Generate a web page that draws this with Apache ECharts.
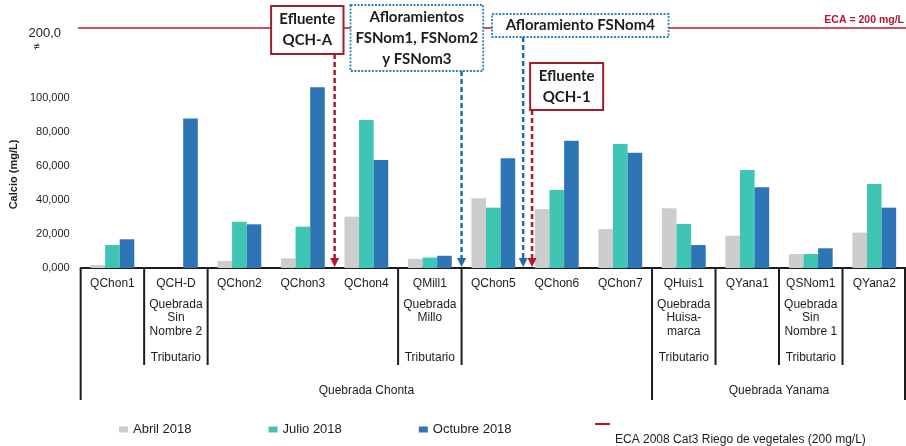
<!DOCTYPE html>
<html>
<head>
<meta charset="utf-8">
<script src="https://cdn.jsdelivr.net/npm/echarts@6/dist/echarts.min.js"></script>
<style>
  html, body { margin: 0; padding: 0; background: #fff; }
  #chart { width: 906px; height: 446px; }
</style>
</head>
<body>
<div id="chart"></div>
<script>
// Estaciones de muestreo (eje de categorías)
const categories = ['QChon1', 'QCH-D', 'QChon2', 'QChon3', 'QChon4', 'QMill1', 'QChon5',
  'QChon6', 'QChon7', 'QHuis1', 'QYana1', 'QSNom1', 'QYana2'];

// Texto secundario bajo cada estación (cuerpo de agua tributario)
const subLabels = [
  [], ['Quebrada', 'Sin', 'Nombre 2'], [], [], [], ['Quebrada', 'Millo'], [], [], [],
  ['Quebrada', 'Huisa-', 'marca'], [], ['Quebrada', 'Sin', 'Nombre 1'], []
];
const tributario = [false, true, false, false, false, true, false, false, false, true, false, true, false];

// Agrupación por quebrada: [nombre, primera categoría, última categoría + 1]
const groups = [['Quebrada Chonta', 0, 9], ['Quebrada Yanama', 9, 13]];
const longDividers = [0, 9, 13];
const shortDividers = [1, 2, 5, 6, 10, 11, 12];

// Calcio (mg/L) por campaña
const seriesNames = ['Abril 2018', 'Julio 2018', 'Octubre 2018'];
const abril   = [1.8, null, 4.2, 5.7, 30.2, 5.3, 41.0, 34.7, 22.9, 35.1, 19.0, 8.2, 20.8];
const julio   = [13.5, null, 27.2, 24.3, 87.1, 6.1, 35.5, 45.9, 72.9, 25.9, 57.6, 8.2, 49.4];
const octubre = [16.9, 88.0, 25.7, 106.3, 63.5, 7.2, 64.5, 74.9, 67.8, 13.5, 47.5, 11.6, 35.5];

// Estándar de calidad ambiental
const ecaLimit = 200;
const ecaName = 'ECA 2008 Cat3 Riego de vegetales (200 mg/L)';
const ecaLabel = 'ECA = 200 mg/L';

// Fuentes de aporte señaladas sobre el gráfico (posición en unidades de categoría)
const sources = [
  { lines: ['Efluente', 'QCH-A'], kind: 'efluente', at: 4.0 },
  { lines: ['Afloramientos', 'FSNom1, FSNom2', 'y FSNom3'], kind: 'afloramiento', at: 6.0 },
  { lines: ['Afloramiento FSNom4'], kind: 'afloramiento', at: 6.97 },
  { lines: ['Efluente', 'QCH-1'], kind: 'efluente', at: 7.11 }
];

// Caja de cada rótulo: x en unidades de categoría, y en píxeles
const boxLayout = [
  { x0: 3.0, x1: 4.14, y0: 6, y1: 54 },
  { x0: 4.25, x1: 6.34, y0: 5, y1: 71 },
  { x0: 6.48, x1: 9.26, y0: 14, y1: 37 },
  { x0: 7.08, x1: 8.23, y0: 63, y1: 110 }
];

const COLORS = ['#cdcdcd', '#3fc5b3', '#2e75b6'];
const RED = '#b3172e';
const BLUE = '#1f6aa8';
const FONT = '"Liberation Sans", Arial, sans-serif';
const INK = '#1c1c1c';

function fmtDecimal(v, d) { return v.toFixed(d).replace('.', ','); }

function categoryLabel(value, idx) {
  const rows = ['{n|' + value + '}'];
  const sub = subLabels[idx];
  for (let i = 0; i < 4; i++) rows.push('{s|' + (sub[i] || ' ') + '}');
  rows.push('{s|' + (tributario[idx] ? 'Tributario' : ' ') + '}');
  return rows.join('\n');
}

const chart = echarts.init(document.getElementById('chart'), null, { renderer: 'canvas' });

const barSeries = [abril, julio, octubre].map((data, i) => ({
  name: seriesNames[i],
  type: 'bar',
  xAxisIndex: 0,
  yAxisIndex: 0,
  data: data,
  barGap: '0%',
  barCategoryGap: '31%',
  itemStyle: { color: COLORS[i] },
  emphasis: { disabled: true }
}));

chart.setOption({
  animation: false,
  backgroundColor: '#fff',
  textStyle: { fontFamily: FONT },
  grid: [
    { left: 78, right: 0, top: 81, bottom: 178 },
    { left: 78, right: 0, top: 18, height: 20 }
  ],
  xAxis: [
    {
      type: 'category', gridIndex: 0, data: categories,
      axisLine: { lineStyle: { color: INK, width: 2 } },
      axisTick: { show: false },
      axisLabel: {
        interval: 0, margin: 2, formatter: categoryLabel,
        rich: {
          n: { fontSize: 12, color: INK, fontFamily: FONT, lineHeight: 28, align: 'center' },
          s: { fontSize: 12, color: INK, fontFamily: FONT, lineHeight: 13.3, align: 'center' }
        }
      }
    },
    { type: 'value', gridIndex: 0, min: 0, max: categories.length, show: false },
    { type: 'value', gridIndex: 1, min: 0, max: categories.length, show: false }
  ],
  yAxis: [
    {
      type: 'value', gridIndex: 0, min: 0, max: 110, interval: 20,
      name: 'Calcio (mg/L)', nameLocation: 'middle', nameGap: 58,
      nameTextStyle: { fontSize: 11, fontWeight: 'bold', color: INK, fontFamily: FONT },
      axisLine: { show: false }, axisTick: { show: false }, splitLine: { show: false },
      axisLabel: {
        fontSize: 11, color: INK, margin: 11,
        formatter: v => (v > 100 ? '' : fmtDecimal(v, 3))
      }
    },
    {
      type: 'value', gridIndex: 1, min: ecaLimit - 10, max: ecaLimit + 10, interval: 10,
      axisLine: { show: false }, axisTick: { show: false }, splitLine: { show: false },
      axisLabel: {
        margin: 17, verticalAlign: 'top',
        formatter: v => (v === ecaLimit ? '{v|' + fmtDecimal(v, 1) + '}\n{b|≠}' : ''),
        rich: {
          v: { fontSize: 13, color: INK, fontFamily: FONT, lineHeight: 10 },
          b: { fontSize: 11, color: INK, fontFamily: FONT, lineHeight: 17, align: 'left', padding: [0, 0, 0, 5] }
        }
      }
    }
  ],
  legend: [
    {
      data: seriesNames, left: 114, top: 418, itemWidth: 9, itemHeight: 6, itemGap: 77,
      icon: 'rect', selectedMode: false,
      textStyle: { fontSize: 13, color: INK, fontFamily: FONT }
    },
    {
      // la muestra de línea queda arriba y el texto debajo
      data: [ecaName], left: 590, top: 418, padding: 5, itemWidth: 15, itemHeight: 34,
      icon: 'path://M0,0L15,0L15,2L0,2Z M0,34L0.001,34Z', selectedMode: false,
      textStyle: { fontSize: 12, color: INK, fontFamily: FONT }
    }
  ],
  series: barSeries.concat([{
    name: ecaName,
    type: 'line',
    xAxisIndex: 2,
    yAxisIndex: 1,
    data: [],
    itemStyle: { color: RED },
    lineStyle: { color: RED },
    markLine: {
      silent: true, symbol: 'none', animation: false,
      lineStyle: { color: RED, width: 1.6, type: 'solid' },
      label: {
        show: true, position: 'insideEndTop', formatter: ecaLabel,
        color: RED, fontWeight: 'bold', fontSize: 10.5, fontFamily: FONT, distance: 2
      },
      data: [{ yAxis: ecaLimit }]
    }
  }])
});

// Elementos de apoyo: divisiones de la tabla de estaciones, nombres de quebrada y rótulos de aporte
const px = v => chart.convertToPixel({ xAxisIndex: 1 }, v);
const py = v => chart.convertToPixel({ yAxisIndex: 0 }, v);
const base = py(0);

const graphics = [];
longDividers.forEach(k => {
  const x = Math.min(px(k), 905);
  graphics.push({ type: 'line', z: 50, shape: { x1: x, y1: base, x2: x, y2: base + 132 },
    style: { stroke: INK, lineWidth: 2 } });
});
shortDividers.forEach(k => {
  const x = px(k);
  graphics.push({ type: 'line', z: 50, shape: { x1: x, y1: base, x2: x, y2: base + 97 },
    style: { stroke: INK, lineWidth: 2 } });
});
groups.forEach(([name, a, b]) => {
  graphics.push({ type: 'text', z: 50, style: {
    text: name, x: px((a + b) / 2), y: base + 123, align: 'center', verticalAlign: 'middle',
    fill: INK, font: '12px ' + FONT } });
});

sources.forEach((s, i) => {
  const L = boxLayout[i];
  const color = s.kind === 'efluente' ? RED : BLUE;
  const x = px(s.at);
  const yTop = L.y1;
  graphics.push({ type: 'line', z: 60, shape: { x1: x, y1: yTop, x2: x, y2: base - 8 },
    style: { stroke: color, lineWidth: 2.5, lineDash: [5, 3] } });
  graphics.push({ type: 'polygon', z: 60, shape: { points: [[x - 4.5, base - 10], [x + 4.5, base - 10], [x, base - 1]] },
    style: { fill: color } });
  const bx0 = px(L.x0), bx1 = px(L.x1);
  graphics.push({ type: 'rect', z: 70, shape: { x: bx0, y: L.y0, width: bx1 - bx0, height: L.y1 - L.y0 },
    style: s.kind === 'efluente'
      ? { fill: '#fff', stroke: '#a11c2c', lineWidth: 2 }
      : { fill: '#fff', stroke: '#2f80b4', lineWidth: 1.8, lineDash: [2, 1.5] } });
  graphics.push({ type: 'text', z: 80, style: {
    text: s.lines.join('\n'), x: (bx0 + bx1) / 2, y: (L.y0 + L.y1) / 2,
    align: 'center', verticalAlign: 'middle', lineHeight: 21,
    fill: INK, font: 'bold 15px Lato, "Open Sans", sans-serif' } });
});

chart.setOption({ graphic: graphics });
</script>
</body>
</html>
